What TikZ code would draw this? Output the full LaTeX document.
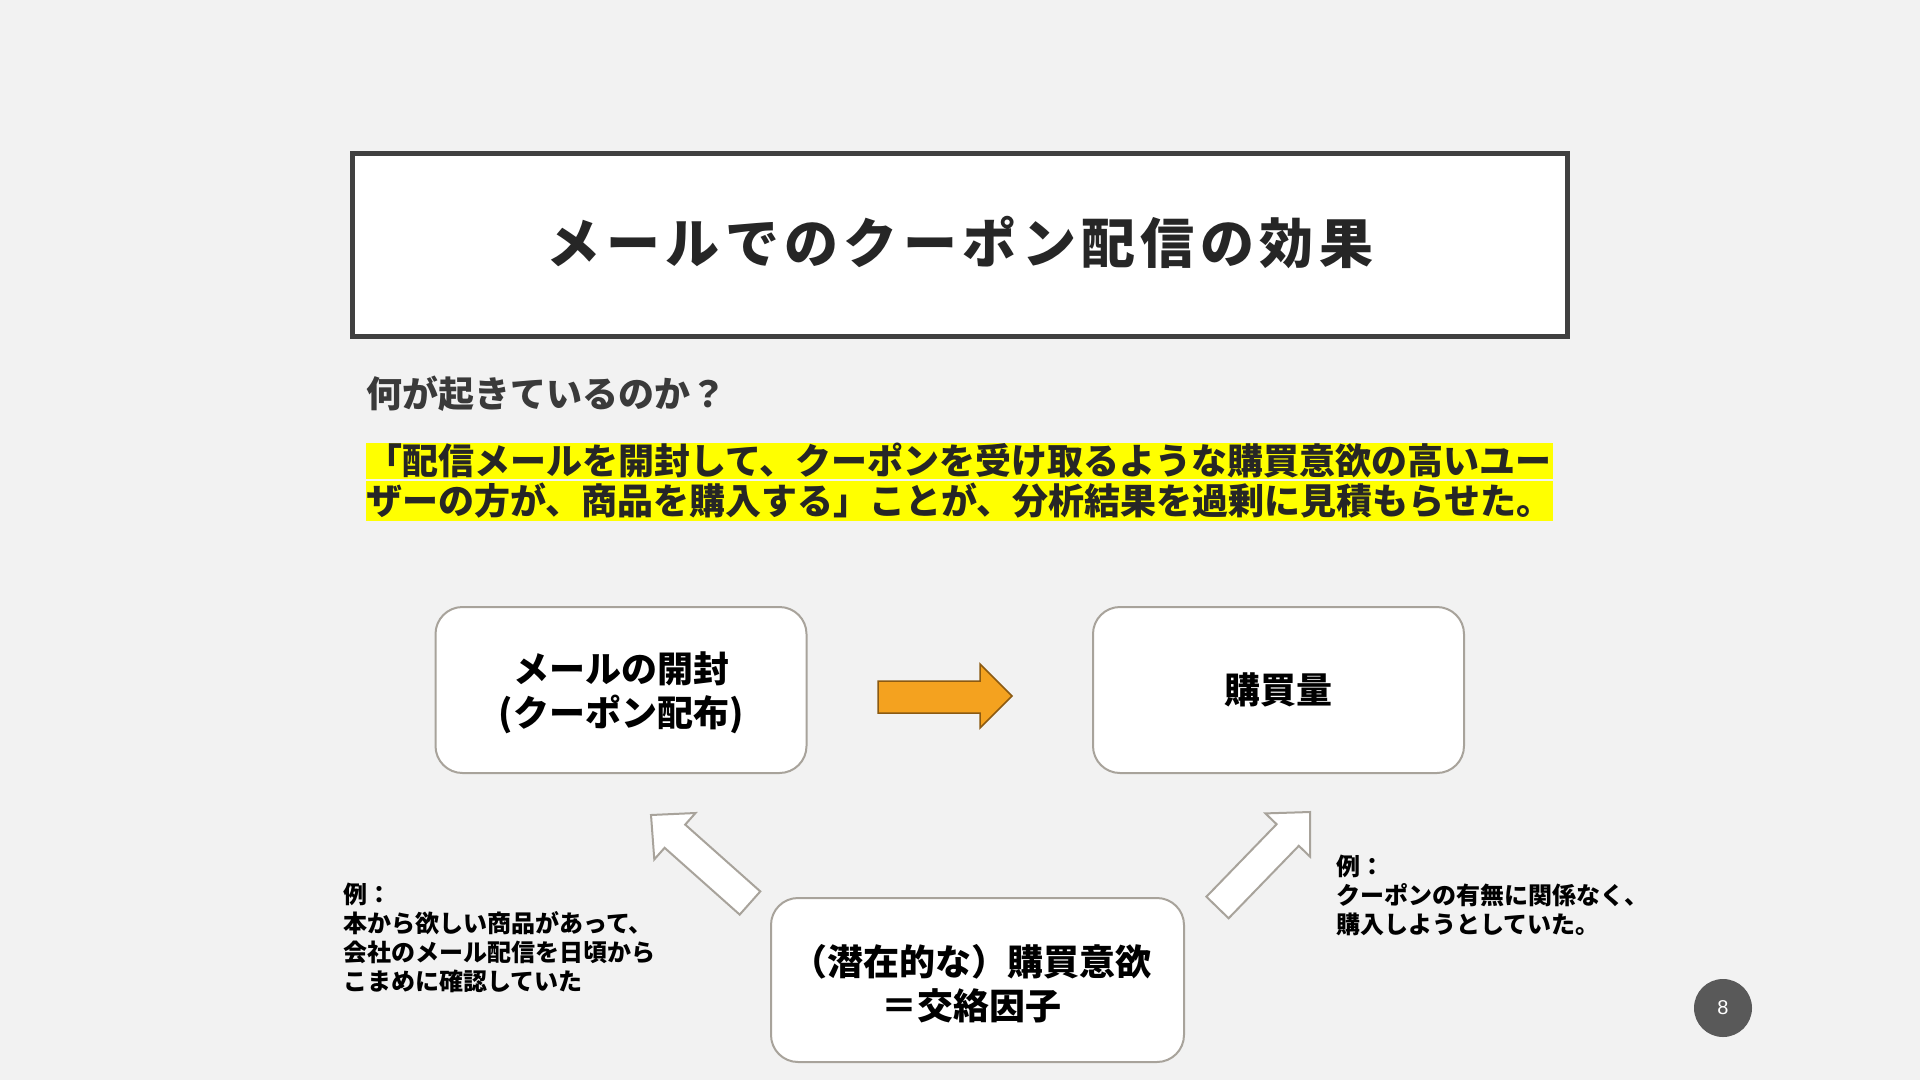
\documentclass[tikz,border=0pt]{standalone}
\usepackage{fontspec}
\setmainfont{Noto Sans CJK JP}
\newfontfamily\titlefont[LetterSpace=10]{Noto Sans CJK JP}
\newfontfamily\numfont{Liberation Sans}
\XeTeXlinebreaklocale "ja"
\XeTeXlinebreakskip=0pt plus 3pt
\definecolor{bgc}{HTML}{F2F2F2}
\definecolor{titleborder}{HTML}{404040}
\definecolor{titletext}{HTML}{262626}
\definecolor{headtext}{HTML}{3A3A3A}
\definecolor{hlyellow}{HTML}{FFFF00}
\definecolor{boxgray}{HTML}{A8A39B}
\definecolor{orangefill}{HTML}{F4A21F}
\definecolor{orangedraw}{HTML}{8B5A12}
\definecolor{pagecirc}{HTML}{595959}
\tikzset{
  roundbox/.style={draw=boxgray, line width=2pt, fill=white, rounded corners=27pt,
    minimum width=371pt, minimum height=166pt, align=center, inner sep=0pt,
    font=\bfseries\fontsize{36}{44}\selectfont},
  boxtext/.style={inner sep=0pt, align=center, font=\bfseries\fontsize{36}{44}\selectfont},
  blockarrow/.style={draw=boxgray, line width=2pt, fill=white, line join=miter},
  note/.style={anchor=west, align=left, inner sep=0pt, font=\bfseries\fontsize{24}{29}\selectfont},
  hlline/.style={anchor=west, inner sep=0pt, text=titletext, font=\bfseries\fontsize{36}{44}\selectfont}
}
\begin{document}
\begin{tikzpicture}[x=1pt,y=-1pt]
\useasboundingbox (0,0) rectangle (1920,1080);
\fill[bgc] (0,0) rectangle (1920,1080);

% title
\draw[draw=titleborder, line width=5pt, fill=white] (352.5,153.5) rectangle (1567.5,336.5);
\node[inner sep=0pt, text=titletext, font=\titlefont\bfseries\fontsize{54}{60}\selectfont] (title) at (960,243) {メールでのクーポン配信の効果};

% heading
\node[anchor=west, inner sep=0pt, text=headtext, font=\bfseries\fontsize{36}{44}\selectfont] (head) at (366,394) {何が起きているのか？};

% highlighted sentence
\fill[hlyellow] (366,443) rectangle (1553,479);
\fill[hlyellow] (366,480.5) rectangle (1553,521);
\node[hlline] (hl1) at (366,461) {\makebox[1188pt][s]{「配信メールを開封して、クーポンを受け取るような購買意欲の高いユー}};
\node[hlline] (hl2) at (366,501) {\makebox[1188pt][s]{ザーの方が、商品を購入する」ことが、分析結果を過剰に見積もらせた。}};

% boxes
\node[roundbox] (open) at (621,690) {};
\node[boxtext] (opent) at (621,693) {メールの開封\\(クーポン配布)};
\node[roundbox] (buy) at (1278.5,690) {購買量};
\node[roundbox, minimum width=413pt, minimum height=164pt] (conf) at (977.5,980) {};
\node[boxtext] (conft) at (971,984) {（潜在的な）購買意欲\\＝交絡因子};

% orange arrow
\draw[fill=orangefill, draw=orangedraw, line width=1.5pt, line join=miter]
  (878,681) -- (980,681) -- (980,664) -- (1012,696) -- (980,728) -- (980,713) -- (878,713) -- cycle;

% white block arrows
\draw[blockarrow] (760.3,891.4) -- (685.2,824.6) -- (695.5,813.0) -- (651,815) -- (654.3,859.4) -- (664.6,847.8) -- (739.7,914.6) -- cycle;
\draw[blockarrow] (1206.4,896.7) -- (1276.6,824.2) -- (1265.4,813.4) -- (1310,812) -- (1310,856.6) -- (1298.8,845.8) -- (1228.6,918.3) -- cycle;

% notes
\node[note] (noteL) at (343,937.5) {例：\\本から欲しい商品があって、\\会社のメール配信を日頃から\\こまめに確認していた};
\node[note] (noteR) at (1336,895.5) {例：\\クーポンの有無に関係なく、\\購入しようとしていた。};

% page number
\node[circle, fill=pagecirc, minimum size=58pt, inner sep=0pt, text=white, font=\numfont\fontsize{20}{22}\selectfont] (page) at (1723,1008) {8};
\end{tikzpicture}
\end{document}
